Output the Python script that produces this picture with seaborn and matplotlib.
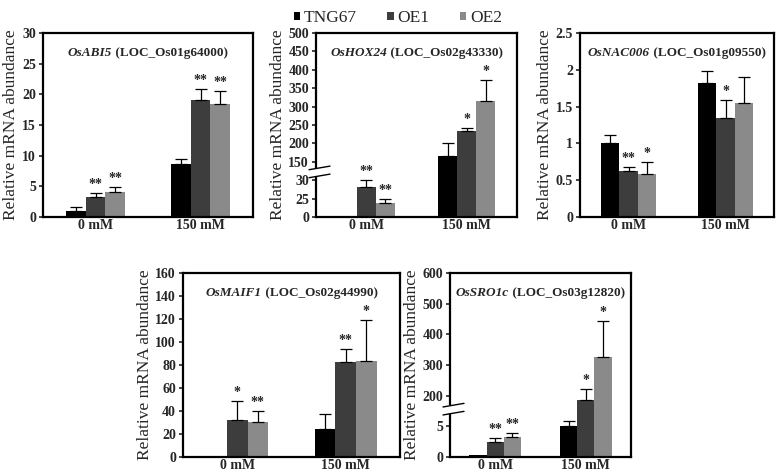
import numpy as np
import pandas as pd
import matplotlib
matplotlib.use('Agg')
import matplotlib.pyplot as plt
import seaborn as sns
from matplotlib.patches import Patch

TREATMENTS = ['0 mM', '150 mM']
LINES = ['TNG67', 'OE1', 'OE2']
COLORS = ['#000000', '#3d3d3d', '#8a8a8a']

# rows = treatment (0 mM, 150 mM), columns = line (TNG67, OE1, OE2)
ABI5_MEAN = [[1.0, 3.2, 4.1], [8.7, 19.1, 18.4]]
ABI5_ERR = [[0.55, 0.7, 0.85], [0.75, 1.8, 2.2]]
ABI5_SIG = [['', '**', '**'], ['', '**', '**']]

HOX24_MEAN = [[1.5, 28.2, 19.5], [166, 234, 314]]
HOX24_ERR = [[0, 5.4, 5.0], [36, 7, 57]]
HOX24_SIG = [['', '**', '**'], ['', '*', '*']]

NAC006_MEAN = [[1.0, 0.625, 0.585], [1.82, 1.345, 1.545]]
NAC006_ERR = [[0.11, 0.05, 0.16], [0.16, 0.24, 0.355]]
NAC006_SIG = [['', '**', '*'], ['', '*', '']]

MAIF1_MEAN = [[1.2, 32, 30.5], [24.7, 82.6, 83.5]]
MAIF1_ERR = [[0, 16.3, 9.6], [12.8, 11.4, 35.2]]
MAIF1_SIG = [['', '*', '**'], ['', '**', '*']]

SRO1C_MEAN = [[0.4, 2.5, 3.3], [5.0, 175, 326]]
SRO1C_ERR = [[0, 0.6, 0.6], [35, 47, 118]]
SRO1C_SIG = [['', '**', '**'], ['', '*', '*']]

sns.set_style('ticks')
plt.rcParams['font.family'] = ['Liberation Serif', 'DejaVu Serif']

W, H = 783, 476
fig = plt.figure(figsize=(W / 100, H / 100), dpi=100)


def draw_panel(rect, mean, err, sig, gene, loc, yticks, knots=None, brk=None):
    ax = fig.add_axes(rect)
    df = pd.DataFrame({
        'treatment': np.repeat(TREATMENTS, len(LINES)),
        'line': LINES * len(TREATMENTS),
        'value': np.ravel(mean),
    })
    sns.barplot(data=df, x='treatment', y='value', hue='line', hue_order=LINES,
                palette=COLORS, saturation=1, width=0.57, errorbar=None,
                legend=False, linewidth=0, ax=ax)
    bar_conts = list(ax.containers)

    # broken axis: piecewise linear scale
    if knots is not None:
        kx = [-1e4] + knots[0] + [1e5]
        ku = [kx[0] * knots[1][1] / knots[0][1]] + knots[1] + \
             [knots[1][-1] + (1e5 - knots[0][-1]) * 1e-3]
        ax.set_yscale('function', functions=(lambda y: np.interp(y, kx, ku),
                                             lambda u: np.interp(u, ku, kx)))

    for j, cont in enumerate(bar_conts):
        for i, bar in enumerate(cont):
            x = bar.get_x() + bar.get_width() / 2
            m, e = mean[i][j], err[i][j]
            if e > 0:
                ax.errorbar(x, m, yerr=[[0], [e]], fmt='none', ecolor='black',
                            elinewidth=0.9, capsize=4, capthick=0.9)
            if sig[i][j]:
                ax.annotate(sig[i][j], (x, m + e), xytext=(0, 1.5),
                            textcoords='offset points', ha='center', va='bottom',
                            fontsize=10, fontweight='bold')

    ax.set_ylim(0, yticks[-1])
    ax.set_xlim(-0.5, 1.5)
    ax.set_yticks(yticks, ['%g' % t for t in yticks], fontweight='bold')
    ax.yaxis.set_minor_locator(matplotlib.ticker.NullLocator())
    for lbl in ax.get_xticklabels():
        lbl.set_fontweight('bold')
    ax.tick_params(axis='y', direction='out', length=3, width=1.2,
                   labelsize=10, pad=2)
    ax.tick_params(axis='x', length=0, labelsize=10, pad=1.5)
    for s in ax.spines.values():
        s.set_linewidth(1.6)
        s.set_color('black')
    ax.set_xlabel('')
    ax.set_ylabel('Relative mRNA abundance', fontsize=12.5, labelpad=2)

    t1 = ax.text(0.5, 0.89, gene, transform=ax.transAxes, fontsize=9.5,
                 fontstyle='italic', fontweight='bold', ha='left', va='center')
    t2 = ax.annotate(' (' + loc + ')', xy=(1, 0), xycoords=t1, fontsize=9.5,
                     fontweight='bold', ha='left', va='bottom')

    if brk is not None:
        w_px, h_px = rect[2] * W, rect[3] * H
        yb = brk
        ax.plot([0, 0], [yb - 4 / h_px, yb + 4 / h_px], color='white', lw=3,
                transform=ax.transAxes, clip_on=False, zorder=5,
                solid_capstyle='butt')
        for dy in (-4, 4):
            ax.plot([-7 / w_px, 14 / w_px],
                    [yb + (dy - 1.8) / h_px, yb + (dy + 1.8) / h_px],
                    color='black', lw=1, transform=ax.transAxes,
                    clip_on=False, zorder=6)
    return ax, t1, t2


titles = []
titles.append(draw_panel([43 / W, 1 - 217 / H, 210 / W, 184 / H],
                         ABI5_MEAN, ABI5_ERR, ABI5_SIG, 'OsABI5', 'LOC_Os01g64000',
                         [0, 5, 10, 15, 20, 25, 30]))
titles.append(draw_panel([316 / W, 1 - 217 / H, 201 / W, 184 / H],
                         HOX24_MEAN, HOX24_ERR, HOX24_SIG, 'OsHOX24', 'LOC_Os02g43330',
                         [0, 25, 30, 150, 200, 250, 300, 350, 400, 450, 500],
                         knots=([0, 25, 30, 150, 500], [0, 1, 2, 3, 10]),
                         brk=0.245))
titles.append(draw_panel([580 / W, 1 - 217 / H, 194 / W, 184 / H],
                         NAC006_MEAN, NAC006_ERR, NAC006_SIG, 'OsNAC006',
                         'LOC_Os01g09550', [0, 0.5, 1, 1.5, 2, 2.5]))
titles.append(draw_panel([183 / W, 1 - 457 / H, 217 / W, 184 / H],
                         MAIF1_MEAN, MAIF1_ERR, MAIF1_SIG, 'OsMAIF1', 'LOC_Os02g44990',
                         [0, 20, 40, 60, 80, 100, 120, 140, 160]))
titles.append(draw_panel([450 / W, 1 - 457 / H, 181 / W, 184 / H],
                         SRO1C_MEAN, SRO1C_ERR, SRO1C_SIG, 'OsSRO1c', 'LOC_Os03g12820',
                         [0, 5, 200, 300, 400, 500, 600],
                         knots=([0, 5, 200, 600], [0, 1, 2, 6]),
                         brk=0.26))

handles = [Patch(facecolor=c, edgecolor='none', label=l) for c, l in zip(COLORS, LINES)]
fig.legend(handles=handles, loc='upper center', bbox_to_anchor=(0.508, 1.0),
           ncol=3, frameon=False, fontsize=12.5, handlelength=0.35,
           handleheight=0.35, handletextpad=0.2, columnspacing=1.8, borderpad=0.1)

# centre the two-part panel titles
fig.canvas.draw()
r = fig.canvas.get_renderer()
for ax, t1, t2 in titles:
    axw = ax.get_window_extent().width
    total = t1.get_window_extent(r).width + t2.get_window_extent(r).width
    t1.set_x(0.5 - total / axw / 2)

fig.savefig('out.png', dpi=100)
